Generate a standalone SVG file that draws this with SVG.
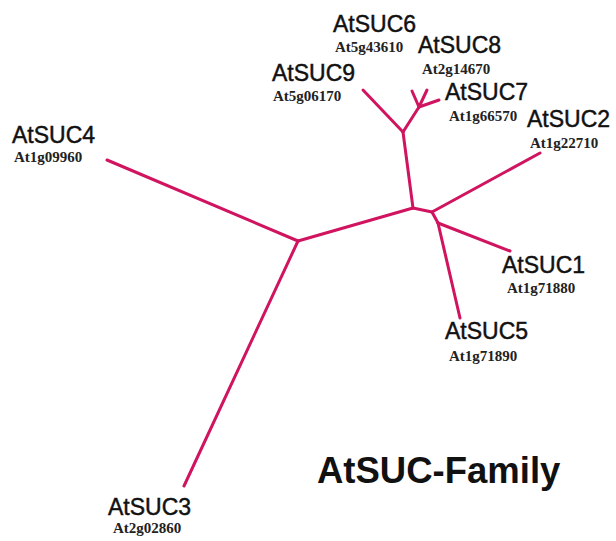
<svg xmlns="http://www.w3.org/2000/svg" width="616" height="541" viewBox="0 0 616 541">
<style>
.br{fill:none;stroke:#d0145f;stroke-width:3;stroke-linecap:round;stroke-linejoin:round}
.nm{font-family:"Liberation Sans",Arial,sans-serif;font-size:23px;fill:#111;stroke:#111;stroke-width:0.45}
.id{font-family:"Liberation Serif","Times New Roman",serif;font-size:15px;font-weight:bold;fill:#222}
.tt{font-family:"Liberation Sans",Arial,sans-serif;font-size:36.5px;font-weight:bold;fill:#111}
</style>
<rect width="616" height="541" fill="#fff"/>
<g id="connectors">
<path class="br" d="M107,160 L298,241"/>
<path class="br" d="M298,241 L184,486"/>
<path class="br" d="M298,241 L413,208"/>
<path class="br" d="M413,208 L403,132"/>
<path class="br" d="M403,132 L363,90"/>
<path class="br" d="M403,132 L419,107"/>
<path class="br" d="M419,107 L412,91"/>
<path class="br" d="M419,107 L427,90"/>
<path class="br" d="M419,107 L439,100"/>
<path class="br" d="M413,208 L432,212"/>
<path class="br" d="M432,212 L540,153"/>
<path class="br" d="M432,212 L438,223"/>
<path class="br" d="M438,223 L510,251"/>
<path class="br" d="M438,223 L460,318"/>
</g>
<g id="AtSUC6"><text class="nm" x="333" y="32">AtSUC6</text><text class="id" x="335" y="52">At5g43610</text></g>
<g id="AtSUC8"><text class="nm" x="418" y="53">AtSUC8</text><text class="id" x="422" y="74">At2g14670</text></g>
<g id="AtSUC9"><text class="nm" x="272" y="81">AtSUC9</text><text class="id" x="273" y="101">At5g06170</text></g>
<g id="AtSUC7"><text class="nm" x="445" y="100">AtSUC7</text><text class="id" x="449" y="121">At1g66570</text></g>
<g id="AtSUC2"><text class="nm" x="527" y="127">AtSUC2</text><text class="id" x="530" y="148">At1g22710</text></g>
<g id="AtSUC4"><text class="nm" x="12" y="143">AtSUC4</text><text class="id" x="14" y="162">At1g09960</text></g>
<g id="AtSUC1"><text class="nm" x="502" y="273">AtSUC1</text><text class="id" x="507" y="293">At1g71880</text></g>
<g id="AtSUC5"><text class="nm" x="445" y="339">AtSUC5</text><text class="id" x="449" y="361">At1g71890</text></g>
<g id="AtSUC3"><text class="nm" x="108" y="515">AtSUC3</text><text class="id" x="113" y="533">At2g02860</text></g>
<g id="title"><text class="tt" x="317" y="483">AtSUC-Family</text></g>
</svg>
